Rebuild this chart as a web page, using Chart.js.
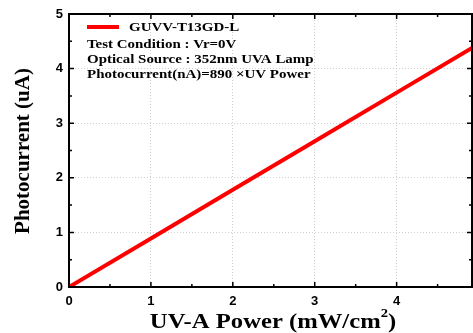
<!DOCTYPE html>
<html>
<head>
<meta charset="utf-8">
<script src="https://cdn.jsdelivr.net/npm/chart.js@4/dist/chart.umd.min.js"></script>
<style>
  html, body { margin: 0; padding: 0; background: #fff; }
  #wrap { width: 473px; height: 333px; }
</style>
</head>
<body>
<div id="wrap"><canvas id="chart" width="473" height="333"></canvas></div>
<script>
// --- Data ---
const uvPower = [0, 1, 2, 3, 4, 4.92];             // mW/cm2
const photocurrent = [0, 0.89, 1.78, 2.67, 3.56, 4.38]; // uA
const xTicks = [0, 1, 2, 3, 4];
const yTicks = [0, 1, 2, 3, 4, 5];
const xMinor = [0.5, 1.5, 2.5, 3.5, 4.5];
const yMinor = [0.5, 1.5, 2.5, 3.5, 4.5];
const seriesName = 'GUVV-T13GD-L';
const notes = [
    'Test Condition : Vr=0V',
    'Optical Source : 352nm UVA Lamp',
    'Photocurrent(nA)=890 \u00D7UV Power'
];

const serif = '"Liberation Serif", "Times New Roman", serif';

// text drawn slightly stretched sideways, like the original export
function wideText(ctx, text, x, y, stretch) {
    ctx.save();
    ctx.translate(x, y);
    ctx.scale(stretch, 1);
    ctx.fillText(text, 0, 0);
    ctx.restore();
}

// --- Frame, inward ticks, titles and legend ---
const framePlugin = {
    id: 'frame',
    afterDraw(chart) {
        const ctx = chart.ctx;
        const a = chart.chartArea;
        const xs = chart.scales.x;
        const ys = chart.scales.y;
        ctx.save();
        ctx.strokeStyle = '#000';
        ctx.lineWidth = 2;
        ctx.strokeRect(a.left, a.top, a.right - a.left, a.bottom - a.top);

        // inward ticks
        ctx.lineWidth = 1.5;
        const xtick = (vals, len) => {
            vals.forEach(v => {
                const px = xs.getPixelForValue(v);
                ctx.beginPath();
                ctx.moveTo(px, a.bottom); ctx.lineTo(px, a.bottom - len);
                ctx.moveTo(px, a.top); ctx.lineTo(px, a.top + len);
                ctx.stroke();
            });
        };
        const ytick = (vals, len) => {
            vals.forEach(v => {
                const py = ys.getPixelForValue(v);
                ctx.beginPath();
                ctx.moveTo(a.left, py); ctx.lineTo(a.left + len, py);
                ctx.moveTo(a.right, py); ctx.lineTo(a.right - len, py);
                ctx.stroke();
            });
        };
        xtick(xTicks, 5); xtick(xMinor, 3);
        ytick(yTicks, 5); ytick(yMinor, 3);

        // x axis title with superscript
        ctx.fillStyle = '#000';
        ctx.textBaseline = 'alphabetic';
        ctx.textAlign = 'left';
        const k = 1.12;
        const main = 'UV-A Power (mW/cm';
        ctx.font = 'bold 22px ' + serif;
        const wMain = ctx.measureText(main).width * k;
        const wEnd = ctx.measureText(')').width * k;
        ctx.font = 'bold 13px ' + serif;
        const wSup = ctx.measureText('2').width * k;
        const x0 = 273 - (wMain + wSup + wEnd) / 2;
        ctx.font = 'bold 22px ' + serif;
        wideText(ctx, main, x0, 328, k);
        wideText(ctx, ')', x0 + wMain + wSup, 328, k);
        ctx.font = 'bold 13px ' + serif;
        wideText(ctx, '2', x0 + wMain, 317, k);

        // y axis title
        ctx.font = 'bold 21px ' + serif;
        ctx.translate(29, 151);
        ctx.rotate(-Math.PI / 2);
        ctx.textAlign = 'center';
        ctx.fillText('Photocurrent (uA)', 0, 0);
        ctx.restore();

        // legend + notes
        ctx.save();
        ctx.strokeStyle = '#ff0000';
        ctx.lineWidth = 4;
        ctx.beginPath();
        ctx.moveTo(87, 27); ctx.lineTo(119, 27);
        ctx.stroke();
        ctx.fillStyle = '#000';
        ctx.textAlign = 'left';
        ctx.font = 'bold 13px ' + serif;
        wideText(ctx, seriesName, 129, 31, 1.15);
        notes.forEach((t, i) => wideText(ctx, t, 87, 48 + i * 15, 1.15));
        ctx.restore();
    }
};

const tickFont = { family: '"Liberation Sans", Arial, sans-serif', size: 13, weight: 'bold' };
const gridStyle = { color: '#cfcfcf', lineWidth: 1, drawTicks: false };
const axisBorder = { display: false, dash: [1, 2] };

new Chart(document.getElementById('chart'), {
    type: 'line',
    data: {
        datasets: [{
            label: seriesName,
            data: uvPower.map((x, i) => ({ x: x, y: photocurrent[i] })),
            borderColor: '#ff0000',
            borderWidth: 4,
            pointRadius: 0,
            tension: 0
        }]
    },
    options: {
        responsive: false,
        animation: false,
        layout: { padding: { top: 14, right: 1, left: 0, bottom: 0 } },
        plugins: { legend: { display: false }, tooltip: { enabled: false } },
        scales: {
            x: {
                type: 'linear',
                min: 0,
                max: 4.92,
                border: axisBorder,
                grid: gridStyle,
                afterFit: s => { s.height = 46; },
                afterBuildTicks: s => { s.ticks = xTicks.map(v => ({ value: v })); },
                ticks: { color: '#000', font: tickFont, padding: 7, maxRotation: 0 }
            },
            y: {
                type: 'linear',
                min: 0,
                max: 5,
                border: axisBorder,
                grid: gridStyle,
                afterFit: s => { s.width = 69; },
                afterBuildTicks: s => { s.ticks = yTicks.map(v => ({ value: v })); },
                ticks: { color: '#000', font: tickFont, padding: 6 }
            }
        }
    },
    plugins: [framePlugin]
});
</script>
</body>
</html>
